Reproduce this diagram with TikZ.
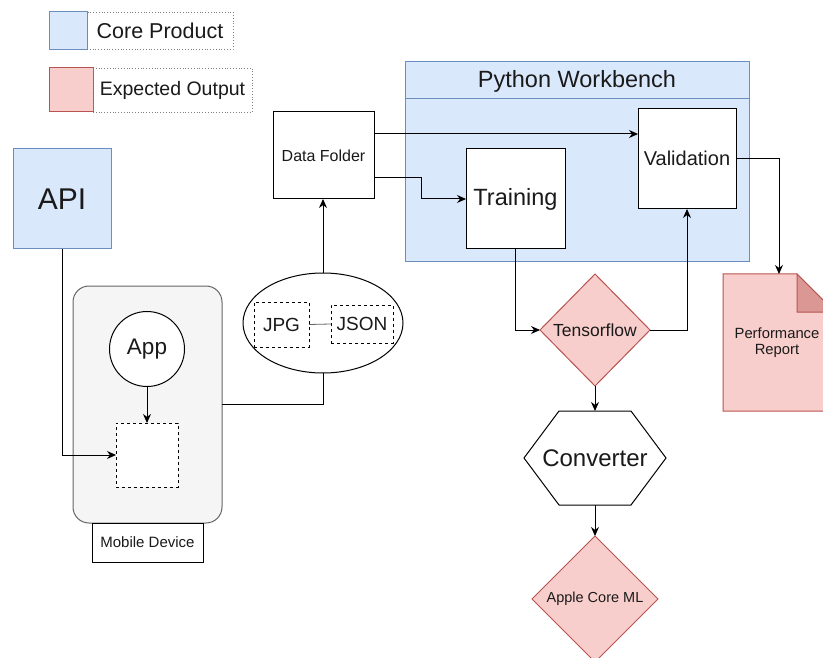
\documentclass[tikz,border=0pt]{standalone}
\usepackage{fontspec}
\setmainfont{Liberation Sans}
\usetikzlibrary{shapes.geometric,arrows.meta,calc}
\definecolor{bfill}{HTML}{DAE8FC}
\definecolor{bline}{HTML}{6C8EBF}
\definecolor{rfill}{HTML}{F8CECC}
\definecolor{rline}{HTML}{B85450}
\definecolor{gfill}{HTML}{F5F5F5}
\definecolor{gline}{HTML}{666666}
\definecolor{txt}{HTML}{1A1A1A}
\newcommand{\fsz}[1]{\fontsize{#1}{#1}\selectfont}
\begin{document}
\begin{tikzpicture}[x=1pt,y=-1pt,
  every node/.style={text=txt,inner sep=0pt,outer sep=0pt},
  bluebox/.style={draw=bline,fill=bfill,line width=1pt},
  redbox/.style={draw=rline,fill=rfill,line width=1pt},
  dbox/.style={draw=black,dashed,line width=0.9pt},
  legtxt/.style={draw=gray,dotted,line width=0.8pt},
  conn/.style={draw=black,line width=1pt},
  arr/.style={conn,-{Stealth[length=9pt,width=8pt]}}
]
\clip (0,0) rectangle (823,658);
\useasboundingbox (0,0) rectangle (823,658);
\fill[white] (0,0) rectangle (823,658);

% legend
\node[bluebox,minimum width=38pt,minimum height=38pt] (lg1) at (68,31) {};
\node[legtxt,minimum width=146pt,minimum height=37pt] (lt1) at (160,30.5) {\fsz{21.5}Core Product};
\node[redbox,minimum width=44pt,minimum height=44pt] (lg2) at (71,90) {};
\node[legtxt,minimum width=159pt,minimum height=44pt] (lt2) at (172.5,90) {\fsz{19.5}Expected Output};

% API
\node[bluebox,minimum width=98pt,minimum height=100pt] (api) at (62,199) {\fsz{30}API};

% Data folder
\node[draw=black,line width=1pt,fill=white,minimum width=101pt,minimum height=87pt] (data) at (323.5,155.5) {\fsz{16}Data Folder};

% Python workbench
\node[bluebox,minimum width=344pt,minimum height=200pt] (wb) at (577,162) {};
\draw[bline,line width=1pt] (405,99) -- (749,99);
\node (wbt) at (577,81) {\fsz{23.5}Python Workbench};
\node[draw=black,line width=1pt,fill=white,minimum width=98pt,minimum height=100pt] (val) at (687,159) {};
\node (valt) at (687,158) {\fsz{20}Validation};
\node[draw=black,line width=1pt,fill=white,minimum width=99pt,minimum height=100pt] (train) at (515.5,199) {\fsz{23.5}Training};

% Tensorflow
\node[redbox,diamond,minimum width=110pt,minimum height=112pt] (tf) at (595,330) {\fsz{17.5}Tensorflow};

% Converter hexagon
\node[minimum width=142pt,minimum height=94pt] (conv) at (595,458) {};
\draw[line width=1pt,fill=white] (conv.west) -- ++(35,-47) -- ++(72,0) -- (conv.east) -- ++(-35,47) -- ++(-72,0) -- cycle;
\node at (595,458) {\fsz{24}Converter};

% Apple Core ML
\node[redbox,diamond,minimum width=126pt,minimum height=126pt] (apple) at (595,599) {\fsz{14.5}Apple Core ML};

% Performance report
\node[minimum width=112pt,minimum height=137pt] (perf) at (779,342.5) {};
\draw[redbox] (perf.north west) -- (797,274) -- (835,312) -- (perf.south east) -- (perf.south west) -- cycle;
\draw[draw=rline,fill=rline!45!rfill,line width=1pt] (797,274) -- (797,312) -- (835,312) -- cycle;
\node[align=center] at (777,343) {\fsz{14.8}Performance\\[4pt]\fsz{14.8}Report};

% Mobile device
\node[draw=gline,fill=gfill,line width=1pt,rounded corners=16pt,minimum width=149pt,minimum height=237pt] (mob) at (147.5,404.5) {};
\node[draw=black,line width=1pt,fill=white,minimum width=111pt,minimum height=39pt] (mobl) at (147.5,542.5) {\fsz{15}Mobile Device};
\node[draw=black,line width=1pt,fill=white,circle,minimum size=75pt] (app) at (147,349) {\fsz{22.5}App};
\node[dbox,fill=white,minimum width=62pt,minimum height=64pt] (dsq) at (147,455) {};

% Ellipse
\node[draw=black,line width=1pt,fill=white,ellipse,minimum width=160pt,minimum height=100pt] (ell) at (323,323) {};
\node[dbox,minimum width=55pt,minimum height=45pt] (jpg) at (281.5,324.5) {\fsz{19}JPG};
\node[dbox,minimum width=62pt,minimum height=38pt] (json) at (362,324) {\fsz{19}JSON};
\draw[gline,line width=0.8pt] (jpg.east) -- (json.west);

% connectors
\draw[arr] ([yshift=-22pt]data.north east) -- ([yshift=-22pt]data.north east -| val.west);
\draw[arr] ([yshift=21pt]data.south east) -| ($(train.west)+(-45,0)$) -- (train.west);
\draw[arr] (train.south) |- (tf.west);
\draw[arr] (tf.east) -| (val.south);
\draw[arr] (val.east) -| (perf.north);
\draw[arr] (tf.south) -- (conv.north);
\draw[arr] (conv.south) -- (apple.north);
\draw[arr] (ell.north) -- (ell.north |- data.south);
\draw[conn] (mob.east) -| (ell.south);
\draw[arr] (app.south) -- (dsq.north);
\draw[arr] (api.south) |- (dsq.west);
\end{tikzpicture}
\end{document}
